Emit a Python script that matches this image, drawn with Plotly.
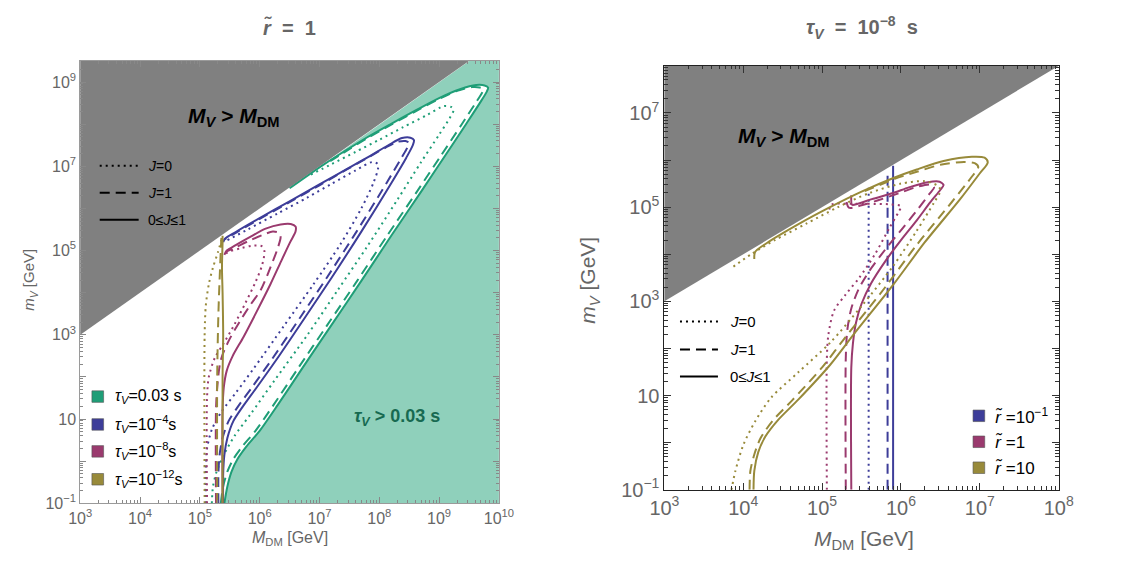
import numpy as np
import plotly.graph_objects as go

W, H = 1137, 572

# ---------------- DATA (log10 values) ----------------
# Left panel: r~ = 1, curves for four lifetimes, J=0 (dotted), J=1 (dashed), 0<=J<=1 (solid)
g_sol_lx = [5.41,5.46,5.53,5.63,5.78,6.0,6.3,6.7,7.2,7.7,8.2,8.7,9.1,9.45,9.68,9.8,9.82,9.76,9.62,9.35,9.0,8.6,8.2,7.8,7.4,7.1,6.8,6.5]
g_sol_ly = [-1,-0.6,-0.25,0.05,0.35,0.72,1.33,2.18,3.23,4.28,5.35,6.4,7.25,8.0,8.5,8.78,8.87,8.92,8.93,8.83,8.62,8.32,8.01,7.69,7.34,7.07,6.78,6.48]
g_dsh_lx = [5.35,5.39,5.46,5.56,5.71,5.93,6.23,6.63,7.13,7.63,8.13,8.63,9.03,9.38,9.6,9.72,9.74,9.68,9.55,9.3,9.0,8.6,8.2,7.8,7.4,7.1]
g_dsh_ly = [-1,-0.6,-0.25,0.05,0.35,0.72,1.33,2.18,3.23,4.28,5.35,6.4,7.25,8.0,8.48,8.75,8.83,8.87,8.88,8.79,8.6,8.3,7.99,7.67,7.32,7.05]
g_dot_lx = [5.2,5.22,5.28,5.4,5.58,5.85,6.25,6.8,7.3,7.8,8.3,8.7,9.0,9.18,9.24,9.2,9.08,8.8,8.4,8.0,7.6,7.2,6.85]
g_dot_ly = [-1,-0.6,-0.25,0.15,0.6,1.12,1.92,3.0,4.05,5.1,6.2,7.1,7.75,8.15,8.33,8.41,8.43,8.22,7.93,7.63,7.34,7.05,6.8]

b_sol_lx = [5.39,5.39,5.41,5.46,5.56,5.72,5.95,6.3,6.8,7.2,7.7,8.2,8.45,8.56,8.58,8.52,8.38,8.15,7.85,7.5,7.0,6.5,6.0,5.6,5.42,5.39]
b_sol_ly = [-1,-0.3,0.15,0.55,0.95,1.3,1.75,2.45,3.5,4.35,5.45,6.6,7.2,7.5,7.62,7.68,7.67,7.5,7.25,6.97,6.57,6.17,5.77,5.44,5.28,5.2]
b_dsh_lx = [5.31,5.31,5.33,5.38,5.48,5.64,5.87,6.22,6.72,7.12,7.62,8.12,8.37,8.47,8.49,8.44,8.3,8.1,7.8,7.45,7.0,6.5,6.0,5.6,5.42]
b_dsh_ly = [-1,-0.3,0.15,0.55,0.95,1.3,1.75,2.45,3.5,4.35,5.45,6.6,7.2,7.45,7.56,7.6,7.58,7.44,7.2,6.92,6.55,6.15,5.75,5.42,5.27]
b_dot_lx = [5.1,5.1,5.12,5.2,5.35,5.6,5.9,6.4,6.9,7.35,7.7,7.9,7.98,7.97,7.88,7.6,7.2,6.8,6.3,5.8,5.45]
b_dot_ly = [-1,-0.2,0.3,0.75,1.15,1.62,2.2,3.2,4.2,5.15,6.0,6.6,6.95,7.06,7.1,6.9,6.58,6.26,5.88,5.5,5.24]

m_sol_lx = [5.38,5.38,5.4,5.45,5.55,5.73,5.95,6.18,6.36,6.51,6.6,6.6,6.52,6.35,6.1,5.85,5.6,5.45,5.41]
m_sol_ly = [-1,1.2,1.75,2.15,2.5,2.95,3.55,4.2,4.75,5.2,5.45,5.57,5.63,5.62,5.52,5.33,5.13,5.0,4.9]
m_dsh_lx = [5.27,5.27,5.29,5.35,5.48,5.66,5.84,6.02,6.18,6.3,6.35,6.32,6.22,6.05,5.82,5.6,5.45]
m_dsh_ly = [-1,1.2,1.75,2.4,2.85,3.3,3.7,4.07,4.6,5.05,5.32,5.42,5.45,5.37,5.23,5.08,4.98]
m_dot_lx = [5.12,5.12,5.15,5.25,5.4,5.58,5.76,5.93,6.04,6.08,6.04,5.9,5.7,5.5,5.4]
m_dot_ly = [-1,1.5,2.0,2.45,2.8,3.25,3.75,4.25,4.65,4.98,5.1,5.12,5.06,4.98,4.9]

o_sol_lx = [5.38,5.38,5.39,5.38,5.37,5.38,5.38]
o_sol_ly = [-1,2.0,3.0,4.0,4.6,5.2,5.35]
o_dsh_lx = [5.29,5.29,5.31,5.33,5.35,5.36]
o_dsh_ly = [-1,2.0,3.5,4.3,5.0,5.3]
o_dot_lx = [5.08,5.08,5.1,5.15,5.22,5.3,5.36]
o_dot_ly = [-1,3.0,3.7,4.2,4.6,4.95,5.25]

# Right panel: tau_V = 1e-8 s, three values of r~
rb_sol_lx = [5.90,5.90]; rb_sol_ly = [-1,5.88]
rb_dsh_lx = [5.83,5.83]; rb_dsh_ly = [-1,5.72]
rb_dot_lx = [5.59,5.59]; rb_dot_ly = [-1,5.47]

rm_sol_lx = [5.37,5.37,5.39,5.43,5.5,5.62,5.8,6.0,6.2,6.37,6.5,6.54,6.49,6.34,6.1,5.9,5.63,5.45,5.38,5.37]
rm_sol_ly = [-1,1.6,2.1,2.55,2.95,3.38,3.85,4.3,4.72,5.1,5.37,5.47,5.54,5.53,5.42,5.3,5.17,5.07,5.05,5.25]
rm_dsh_lx = [5.30,5.30,5.32,5.37,5.46,5.6,5.8,6.02,6.22,6.36,6.42,6.39,6.22,5.98,5.7,5.5,5.34,5.30]
rm_dsh_ly = [-1,1.8,2.4,2.85,3.25,3.65,4.1,4.55,4.97,5.28,5.42,5.48,5.44,5.3,5.14,5.04,4.99,5.22]
rm_dot_lx = [5.06,5.06,5.08,5.15,5.3,5.47,5.67,5.85,5.97,6.0,5.85,5.6,5.35,5.12,5.08]
rm_dot_ly = [-1,1.8,2.3,2.8,3.15,3.5,4.0,4.55,4.9,5.02,5.06,5.07,5.07,5.05,4.85]

ro_sol_lx = [4.13,4.14,4.19,4.28,4.44,4.7,5.1,5.4,5.9,6.3,6.75,7.0,7.1,7.06,6.9,6.54,6.2,5.92,5.5,5.1,4.7,4.3,4.15,4.14]
ro_sol_ly = [-1,-0.6,-0.2,0.13,0.48,0.92,1.65,2.3,3.35,4.25,5.17,5.72,5.95,6.05,6.07,5.98,5.8,5.63,5.33,5.0,4.64,4.24,4.05,3.9]
ro_dsh_lx = [4.08,4.09,4.14,4.22,4.38,4.62,5.0,5.3,5.8,6.2,6.65,6.9,6.98,6.94,6.8,6.5,6.2,5.92,5.5]
ro_dsh_ly = [-1,-0.6,-0.25,0.1,0.48,0.9,1.6,2.25,3.3,4.2,5.12,5.65,5.85,5.93,5.96,5.9,5.75,5.6,5.31]
ro_dot_lx = [3.85,3.9,4.0,4.15,4.35,4.7,5.1,5.5,5.9,6.2,6.42,6.5,6.47,6.3,6.0,5.6,5.2,4.8,4.4,4.1,3.86]
ro_dot_ly = [-1,-0.6,-0.05,0.45,0.95,1.5,2.12,2.9,3.75,4.5,5.1,5.35,5.45,5.55,5.5,5.3,5.0,4.65,4.3,4.0,3.72]

left_xticks = [3,4,5,6,7,8,9,10]
left_yticks = [-1,0,1,2,3,4,5,6,7,8,9]
right_xticks = [3,4,5,6,7,8]
right_yticks = [-1,0,1,2,3,4,5,6,7,8]

# ---------------- STYLE ----------------
GREEN = "#1f9e77"; BLUE = "#3d3d99"; MAG = "#9a3a6e"; OLIVE = "#988a3a"
FILL = "#8fd0bb"; GREY = "#808080"
DOT = "2px,4px"; DASH = "10px,6px"
FONT = "Liberation Sans, Arial, sans-serif"

def P(a):
    return np.power(10.0, np.asarray(a, dtype=float))

fig = go.Figure()

def curve(lx, ly, color, dash, xa, ya, width=2):
    fig.add_trace(go.Scatter(x=P(lx), y=P(ly), mode="lines", xaxis=xa, yaxis=ya,
                             line=dict(color=color, width=width, dash=dash, shape="spline", smoothing=0.8),
                             hoverinfo="skip", showlegend=False))

# green shaded region (outside the tau=0.03 s contour)
fx = list(g_sol_lx) + [10.6, 10.6, g_sol_lx[0]]
fy = list(g_sol_ly) + [10.6, -1.6, -1.6]
fig.add_trace(go.Scatter(x=P(fx), y=P(fy), mode="lines", fill="toself", fillcolor=FILL,
                         line=dict(width=0, color=FILL), xaxis="x", yaxis="y",
                         hoverinfo="skip", showlegend=False))

for lx, ly, c, d in [
    (g_dot_lx, g_dot_ly, GREEN, DOT), (g_dsh_lx, g_dsh_ly, GREEN, DASH), (g_sol_lx, g_sol_ly, GREEN, "solid"),
    (b_dot_lx, b_dot_ly, BLUE, DOT), (b_dsh_lx, b_dsh_ly, BLUE, DASH), (b_sol_lx, b_sol_ly, BLUE, "solid"),
    (m_dot_lx, m_dot_ly, MAG, DOT), (m_dsh_lx, m_dsh_ly, MAG, DASH), (m_sol_lx, m_sol_ly, MAG, "solid"),
    (o_dot_lx, o_dot_ly, OLIVE, DOT), (o_dsh_lx, o_dsh_ly, OLIVE, DASH), (o_sol_lx, o_sol_ly, OLIVE, "solid"),
]:
    curve(lx, ly, c, d, "x", "y")

for lx, ly, c, d in [
    (rb_dot_lx, rb_dot_ly, BLUE, DOT), (rb_dsh_lx, rb_dsh_ly, BLUE, DASH), (rb_sol_lx, rb_sol_ly, BLUE, "solid"),
    (rm_dot_lx, rm_dot_ly, MAG, DOT), (rm_dsh_lx, rm_dsh_ly, MAG, DASH), (rm_sol_lx, rm_sol_ly, MAG, "solid"),
    (ro_dot_lx, ro_dot_ly, OLIVE, DOT), (ro_dsh_lx, ro_dsh_ly, OLIVE, DASH), (ro_sol_lx, ro_sol_ly, OLIVE, "solid"),
]:
    curve(lx, ly, c, d, "x2", "y2")

# grey excluded triangle M_V > M_DM
for xa, ya, lo, hi in [("x", "y", 2.9, 10.6), ("x2", "y2", 2.9, 8.6)]:
    fig.add_trace(go.Scatter(x=P([lo, hi, lo, lo]), y=P([lo, hi, hi, lo]), mode="lines", fill="toself",
                             fillcolor=GREY, line=dict(width=0, color=GREY), xaxis=xa, yaxis=ya,
                             hoverinfo="skip", showlegend=False))

def sup(e):
    if e == 0:
        return "1"
    if e == 1:
        return "10"
    return "10<sup>" + ("−" + str(-e) if e < 0 else str(e)) + "</sup>"

def minor_vals(lo, hi):
    return [k * 10.0 ** e for e in range(lo, hi) for k in range(2, 10)]

def axis_style(dom, rng, ticks, labels_every, fsize, lcolor, tcolor, minor_rng, ticklen):
    text = []
    for i, e in enumerate(ticks):
        text.append(sup(e) if (i % labels_every == 0) else " ")
    return dict(type="log", domain=dom, range=rng, tickvals=list(P(ticks)), ticktext=text,
                ticks="inside", ticklen=ticklen, tickwidth=1, tickcolor=tcolor,
                showline=True, linecolor=lcolor, linewidth=1, mirror="allticks",
                showgrid=False, zeroline=False,
                tickfont=dict(family=FONT, size=fsize, color="#666666"),
                minor=dict(ticks="inside", ticklen=ticklen * 0.5, tickcolor=tcolor, tickwidth=1,
                           tickvals=minor_vals(*minor_rng), showgrid=False))

LC = "#9a9a9a"; RC = "#222222"
fig.update_layout(
    width=W, height=H, margin=dict(l=0, r=0, t=0, b=0),
    paper_bgcolor="white", plot_bgcolor="white",
    xaxis=dict(axis_style([67 / W, 497 / W], [3, 10], left_xticks, 1, 16, LC, "#888888", (3, 10), 6), anchor="y"),
    yaxis=dict(axis_style([1 - 512 / H, 1 - 52 / H], [-1, 9.5], left_yticks, 2, 16, LC, "#888888", (-1, 10), 6), anchor="x"),
    xaxis2=dict(axis_style([667 / W, 1072 / W], [3, 8], right_xticks, 1, 20, RC, "#333333", (3, 8), 7), anchor="y2"),
    yaxis2=dict(axis_style([1 - 498 / H, 1 - 57 / H], [-1, 8], right_yticks, 2, 20, RC, "#333333", (-1, 8), 7), anchor="x2"),
)

ann = []
def A(px, py, text, size, color="black", xanchor="center", angle=0):
    ann.append(dict(x=px / W, y=1 - py / H, xref="paper", yref="paper", text=text, showarrow=False,
                    xanchor=xanchor, yanchor="middle", textangle=angle,
                    font=dict(family=FONT, size=size, color=color)))

A(282, 17, "<b><i>r̃</i>  =  1</b>", 20, "#666666")
A(870, 17, "<b><i>τ<sub>V</sub></i>  =  10<sup>−8</sup>  s</b>", 20, "#666666")
A(225, 110, "<b><i>M<sub>V</sub></i> > <i>M</i><sub>DM</sub></b>", 21)
A(790, 131, "<b><i>M<sub>V</sub></i> > <i>M</i><sub>DM</sub></b>", 21)
A(392, 423, "<b><i>τ<sub>V</sub></i> > 0.03 s</b>", 18, "#176a51")
A(15, 280, "<i>m<sub>V</sub></i> [GeV]", 15, "#666666", angle=-90)
A(282, 549, "<i>M</i><sub>DM</sub> [GeV]", 16, "#666666")
A(590, 280, "<i>m<sub>V</sub></i> [GeV]", 21, "#666666", angle=-90)
A(872, 550, "<i>M</i><sub>DM</sub> [GeV]", 21, "#666666")

shapes = []
# line-style legends
for (x0, x1, tx, ys, fs) in [(87, 127, 135, [161, 189, 217], 14), (683, 722, 732, [323, 352, 380], 15)]:
    for y, d, t in zip(ys, [DOT, DASH, "solid"], ["<i>J</i>=0", "<i>J</i>=1", "0≤<i>J</i>≤1"]):
        shapes.append(dict(type="line", xref="paper", yref="paper", x0=x0 / W, x1=x1 / W,
                           y0=1 - y / H, y1=1 - y / H, line=dict(color="black", width=2, dash=d)))
        A(tx, y, t, fs, "black", xanchor="left")

# colour legends
def sw(px, py, size, color):
    shapes.append(dict(type="rect", xref="paper", yref="paper", x0=px / W, x1=(px + size) / W,
                       y0=1 - (py + size / 2) / H, y1=1 - (py - size / 2) / H,
                       fillcolor=color, line=dict(color="#555555", width=0.6)))

for y, c, t in zip([401, 430, 458, 487], [GREEN, BLUE, MAG, OLIVE],
                   ["<i>τ<sub>V</sub></i>=0.03 s", "<i>τ<sub>V</sub></i>=10<sup>−4</sup>s",
                    "<i>τ<sub>V</sub></i>=10<sup>−8</sup>s", "<i>τ<sub>V</sub></i>=10<sup>−12</sup>s"]):
    sw(79, y, 12, c)
    A(101, y, t, 16, "black", xanchor="left")

for y, c, t in zip([421, 448, 475], [BLUE, MAG, OLIVE],
                   ["<i>r̃</i> =10<sup>−1</sup>", "<i>r̃</i> =1", "<i>r̃</i> =10"]):
    sw(984, y, 12, c)
    A(1004, y, t, 17, "black", xanchor="left")

fig.update_layout(annotations=ann, shapes=shapes)
fig.write_html("out.html")
